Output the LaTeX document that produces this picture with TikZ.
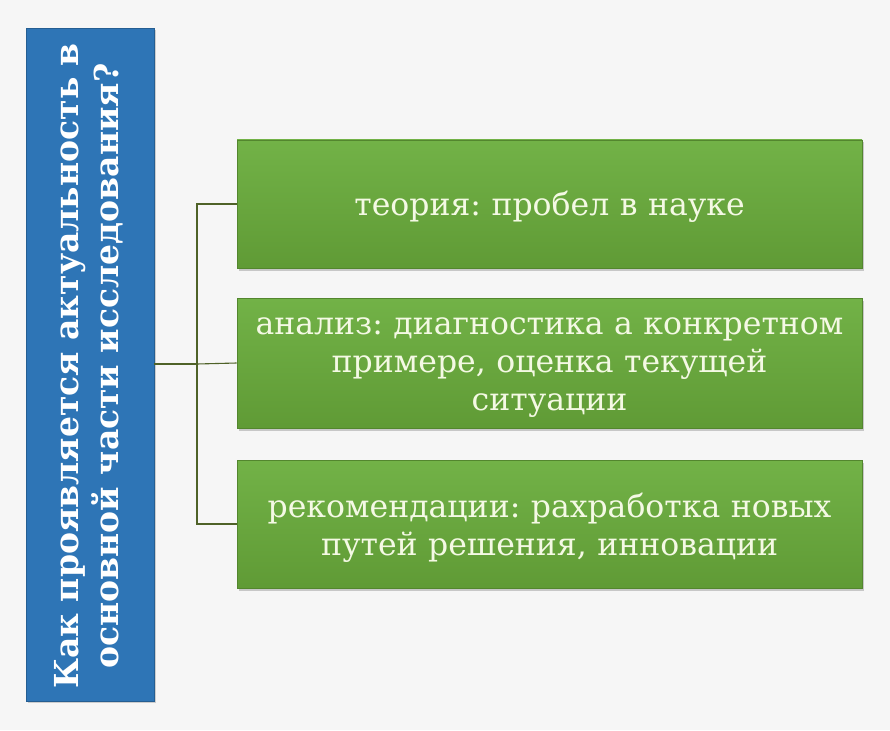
\documentclass[tikz,border=0pt]{standalone}
\usepackage{fontspec}
\setmainfont{DejaVu Serif}
\usetikzlibrary{shadows}
\definecolor{bluebox}{HTML}{2E75B6}
\definecolor{greenbox}{HTML}{68A83A}
\definecolor{greentop}{HTML}{72B247}
\definecolor{linec}{HTML}{4F6228}
\definecolor{bg}{HTML}{F6F6F6}
\definecolor{txt}{HTML}{F4F9E4}
\tikzset{
  qbox/.style={draw=bluebox!80!black, line width=0.6pt, fill=bluebox, minimum width=128pt, minimum height=673pt, inner sep=0pt,
    drop shadow={shadow xshift=1.5pt, shadow yshift=-2pt, fill=black!35, opacity=0.5}},
  gbox/.style={draw=greenbox!80!black, line width=0.6pt, top color=greentop, bottom color=greenbox!92!black, minimum width=625pt, minimum height=128pt, inner sep=0pt,
    drop shadow={shadow xshift=1.5pt, shadow yshift=-2.5pt, fill=black!40, opacity=0.5}},
  gtext/.style={text=txt, font=\fontsize{31.5}{38}\selectfont, align=center, text width=624pt, inner sep=0pt},
  conn/.style={draw=linec, line width=1.1pt}
}
\begin{document}
\frenchspacing
\begin{tikzpicture}[x=1pt,y=-1pt]
\fill[bg] (0,0) rectangle (890,730);
\useasboundingbox (0,0) rectangle (890,730);
\node[qbox] (q) at (90,364.5) {};
\node[rotate=90, text=white, font=\bfseries\fontsize{33}{40}\selectfont, align=center] (qt) at (89,366) {Как проявляется актуальность в\\основной части исследования?};
\node[gbox] (a) at (549.5,204) {};
\node[gbox, minimum height=130pt] (b) at (549.5,363) {};
\node[gbox] (c) at (549.5,524) {};
\node[gtext] (at) at ([yshift=-3pt]a.center) {теория: пробел в науке};
\node[gtext] (bt) at ([yshift=-5pt]b.center) {анализ: диагностика а конкретном\\примере, оценка текущей\\ситуации};
\node[gtext] (ct) at ([yshift=-4pt]c.center) {рекомендации: рахработка новых\\путей решения, инновации};
\coordinate (j) at (197,364);
\draw[conn] (q.east |- j) -- (j);
\draw[conn] (a.west) -| (j) |- (c.west);
\draw[conn] (j) -- (b.west);
\end{tikzpicture}
\end{document}
